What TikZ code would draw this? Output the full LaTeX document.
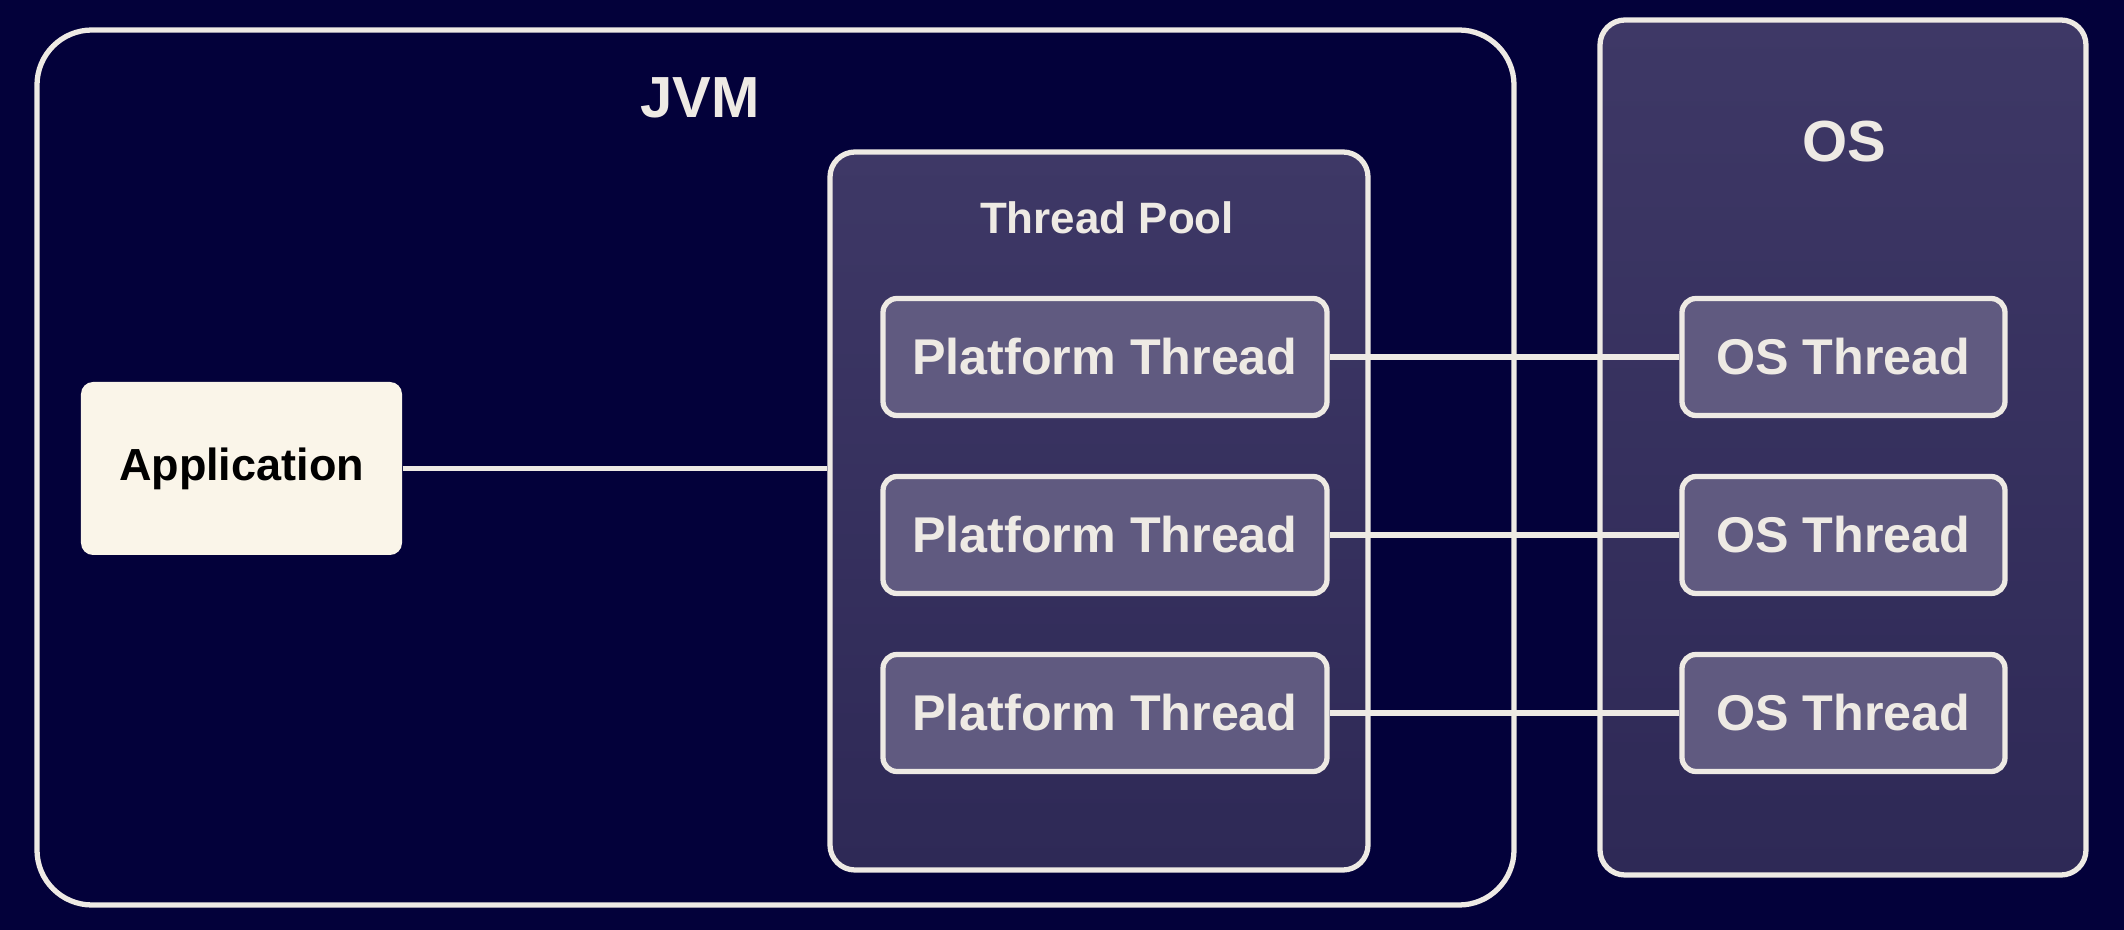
\documentclass[tikz,border=0pt]{standalone}
\usepackage{fontspec}
\setmainfont{Liberation Sans}
\usetikzlibrary{positioning}
\definecolor{navy}{RGB}{3,1,58}
\definecolor{edge}{RGB}{238,234,228}
\definecolor{poolfill}{RGB}{62,56,102}
\definecolor{pooldark}{RGB}{46,41,86}
\definecolor{threadfill}{RGB}{96,90,128}
\definecolor{appfill}{RGB}{250,245,233}
\tikzstyle{container} = [rectangle, rounded corners=0.25cm, draw=edge, line width=1.5pt, top color=poolfill, bottom color=pooldark]
\tikzstyle{thread} = [rectangle, rounded corners=0.14cm, minimum height=1.17cm, text centered, draw=edge, line width=1.5pt, fill=threadfill, text=edge, font=\fontsize{14.3}{17}\selectfont\bfseries]
\tikzstyle{app} = [rectangle, rounded corners=0.12cm, minimum width=3.21cm, minimum height=1.73cm, text centered, fill=appfill, font=\fontsize{12.8}{15}\selectfont\bfseries]
\tikzstyle{title} = [text=edge, font=\fontsize{16.5}{19}\selectfont\bfseries]
\tikzstyle{link} = [draw=edge, line width=1.5pt]

\begin{document}
\begin{tikzpicture}[node distance=1.78cm]
  \fill[navy] (0,0) rectangle (21.24,-9.30);
  \useasboundingbox (0,0) rectangle (21.24,-9.30);
  \node (jvm)[rectangle, rounded corners=0.55cm, draw=edge, line width=1.5pt, minimum width=14.77cm, minimum height=8.75cm] at (7.755,-4.675) {};
  \node (jvmlabel)[title] at (7.00,-0.98) {JVM};
  \node (os)[container, minimum width=4.86cm, minimum height=8.55cm] at (18.43,-4.475) {};
  \node (oslabel)[title] at (18.44,-1.42) {OS};
  \node (pool)[container, minimum width=5.38cm, minimum height=7.18cm] at (10.99,-5.11) {};
  \node (poollabel)[title, font=\fontsize{12.5}{15}\selectfont\bfseries] at (11.07,-2.18) {Thread Pool};
  \node (app)[app] at (2.415,-4.685) {Application};
  \node (pt1)[thread, minimum width=4.44cm] at (11.05,-3.57) {Platform Thread};
  \node (pt2)[thread, minimum width=4.44cm, below of=pt1] {Platform Thread};
  \node (pt3)[thread, minimum width=4.44cm, below of=pt2] {Platform Thread};
  \node (ost1)[thread, minimum width=3.23cm] at (18.435,-3.57) {OS Thread};
  \node (ost2)[thread, minimum width=3.23cm, below of=ost1] {OS Thread};
  \node (ost3)[thread, minimum width=3.23cm, below of=ost2] {OS Thread};
  \draw [link] (app.east) -- (app.east -| pool.west);
  \draw [link] {(pt1)--(ost1) (pt2)--(ost2) (pt3)--(ost3)};
\end{tikzpicture}
\end{document}
